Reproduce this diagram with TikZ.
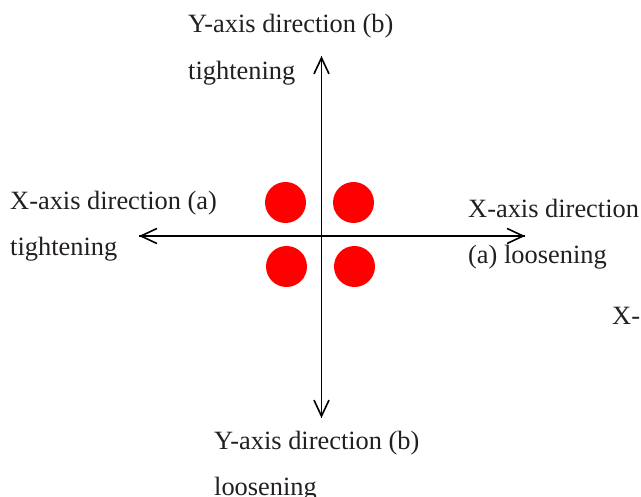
\documentclass[tikz,border=0pt]{standalone}
\usepackage{fontspec}
\setmainfont{Liberation Serif}
\usetikzlibrary{arrows.meta}
\definecolor{txt}{HTML}{231F20}
\begin{document}
\begin{tikzpicture}[x=1pt,y=-1pt,
  lbl/.style={anchor=base west,inner sep=0pt,text=txt,font=\fontsize{26.4}{30}\selectfont},
  axis/.style={line width=1.8pt,-{Straight Barb[length=16pt,width=15pt,line width=1.6pt]}},
  dot/.style={circle,fill=red,minimum size=41pt,inner sep=0pt}]
\useasboundingbox (0,0) rectangle (641,497);
\coordinate (o) at (321.5,236);
\coordinate (top) at (321.5,56);
\coordinate (bot) at (321.5,418);
\coordinate (lft) at (139,236);
\coordinate (rgt) at (525,236);
\draw[axis] (bot) -- (top);
\draw[axis] (top) -- (bot);
\draw[axis] (rgt) -- (lft);
\draw[axis] (lft) -- (rgt);
\node[dot] (d1) at (285.5,202.5) {};
\node[dot] (d2) at (353.5,202.5) {};
\node[dot] (d3) at (286.5,266.5) {};
\node[dot] (d4) at (354.5,266.5) {};
\node[lbl] (t1) at (188,33) {Y-axis direction (b)};
\node[lbl] (t2) at (188,80) {tightening};
\node[lbl] (l1) at (10,210) {X-axis direction (a)};
\node[lbl] (l2) at (10,256) {tightening};
\node[lbl] (r1) at (468,218) {X-axis direction};
\node[lbl] (r2) at (468,264) {(a) loosening};
\node[lbl] (x1) at (612,325) {X-};
\node[lbl] (b1) at (214,450) {Y-axis direction (b)};
\node[lbl] (b2) at (214,496) {loosening};
\end{tikzpicture}
\end{document}
